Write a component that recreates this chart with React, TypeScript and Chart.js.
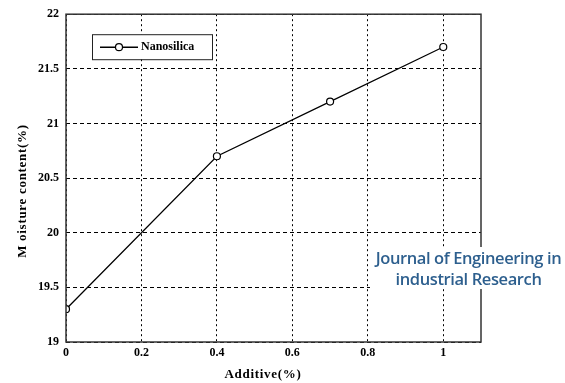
import React, { useEffect, useRef } from "react";
import { Chart, registerables } from "chart.js";

Chart.register(...registerables);

const seriesLabel = "Nanosilica";
const additive = [0, 0.4, 0.7, 1];
const moisture = [19.3, 20.7, 21.2, 21.7];
const xTickValues = [0, 0.2, 0.4, 0.6, 0.8, 1];
const yTickValues = [19, 19.5, 20, 20.5, 21, 21.5, 22];
const xTitle = "Additive(%)";
const yTitle = "M oisture content(%)";
const watermark = ["Journal of Engineering in", "industrial Research"];

const SERIF = "'Liberation Serif', 'Times New Roman', serif";

const framePlugin = {
  id: "frame",
  afterDraw(chart: any) {
    const { ctx, chartArea } = chart;
    ctx.save();
    ctx.strokeStyle = "#333";
    ctx.lineWidth = 1.5;
    ctx.strokeRect(chartArea.left, chartArea.top, chartArea.right - chartArea.left, chartArea.bottom - chartArea.top);
    // inner legend box
    const ds = chart.data.datasets[0];
    const bx = chartArea.left + 26;
    const by = chartArea.top + 20;
    const bw = 120;
    const bh = 25;
    ctx.fillStyle = "#fff";
    ctx.fillRect(bx, by, bw, bh);
    ctx.strokeStyle = "#222";
    ctx.lineWidth = 1;
    ctx.strokeRect(bx + 0.5, by + 0.5, bw, bh);
    const cy = by + bh / 2 + 0.5;
    ctx.beginPath();
    ctx.moveTo(bx + 8, cy);
    ctx.lineTo(bx + 46, cy);
    ctx.strokeStyle = "#000";
    ctx.lineWidth = 1.5;
    ctx.stroke();
    ctx.beginPath();
    ctx.arc(bx + 27, cy, 3.5, 0, Math.PI * 2);
    ctx.fillStyle = "#fff";
    ctx.fill();
    ctx.lineWidth = 1.2;
    ctx.stroke();
    ctx.fillStyle = "#000";
    ctx.font = `bold 12px ${SERIF}`;
    ctx.textBaseline = "middle";
    ctx.textAlign = "left";
    ctx.fillText(ds.label, bx + 49, cy);

    // axis titles
    ctx.font = `bold 13px ${SERIF}`;
    (ctx as any).letterSpacing = "0.7px";
    ctx.textAlign = "center";
    ctx.textBaseline = "middle";
    ctx.fillText(xTitle, 263, 375);
    ctx.translate(23, 191);
    ctx.rotate(-Math.PI / 2);
    ctx.fillText(yTitle, 0, 0);
    ctx.restore();
  },
};

export default function App() {
  const ref = useRef<HTMLCanvasElement>(null);
  useEffect(() => {
    document.body.style.margin = "0";
    const canvas = ref.current!;
    const chart = new Chart(canvas, {
      type: "line",
      data: {
        datasets: [
          {
            label: seriesLabel,
            data: additive.map((x, i) => ({ x, y: moisture[i] })),
            borderColor: "#000",
            borderWidth: 1.2,
            backgroundColor: "#fff",
            pointRadius: 3.5,
            pointBorderWidth: 1.2,
            pointBorderColor: "#000",
            pointBackgroundColor: "#fff",
            tension: 0,
          },
        ],
      },
      options: {
        animation: false,
        responsive: false,
        maintainAspectRatio: false,
        layout: { padding: { left: 0, right: 84, top: 13, bottom: 0 } },
        plugins: { legend: { display: false }, tooltip: { enabled: false } },
        scales: {
          x: {
            type: "linear",
            min: 0,
            max: 1.1,
            afterBuildTicks(scale: any) {
              scale.ticks = xTickValues.map((v) => ({ value: v }));
            },
            afterFit(scale: any) {
              scale.height = 41;
            },
            ticks: {
              color: "#000",
              font: { family: SERIF, size: 12, weight: "bold" },
              padding: 4,
              callback: (v: any) => String(v),
              maxRotation: 0,
            },
            grid: { color: "#000", lineWidth: 1, drawTicks: false },
            border: { display: false, dash: [2, 3] },
            title: { display: false },
          },
          y: {
            type: "linear",
            min: 19,
            max: 22,
            afterBuildTicks(scale: any) {
              scale.ticks = yTickValues.map((v) => ({ value: v }));
            },
            afterFit(scale: any) {
              scale.width = 66;
            },
            ticks: {
              color: "#000",
              font: { family: SERIF, size: 12, weight: "bold" },
              padding: 7,
              callback: (v: any) => String(v),
            },
            grid: { color: "#000", lineWidth: 1, drawTicks: false },
            border: { display: false, dash: [4, 3] },
            title: { display: false },
          },
        },
      } as any,
      plugins: [framePlugin],
    });
    return () => chart.destroy();
  }, []);
  return (
    <div style={{ position: "relative", width: 565, height: 383, background: "#fff" }}>
      <canvas ref={ref} width={565} height={383} style={{ display: "block" }} />
      <div
        style={{
          position: "absolute",
          left: 370,
          top: 247,
          width: 197,
          textAlign: "center",
          color: "#2d5f8e",
          fontFamily: "'Open Sans', sans-serif",
          fontSize: 16.5,
          lineHeight: "21px",
          fontWeight: 600,
          letterSpacing: -0.4,
          background: "#fff",
        }}
      >
        {watermark.map((t) => (
          <div key={t}>{t}</div>
        ))}
      </div>
    </div>
  );
}
